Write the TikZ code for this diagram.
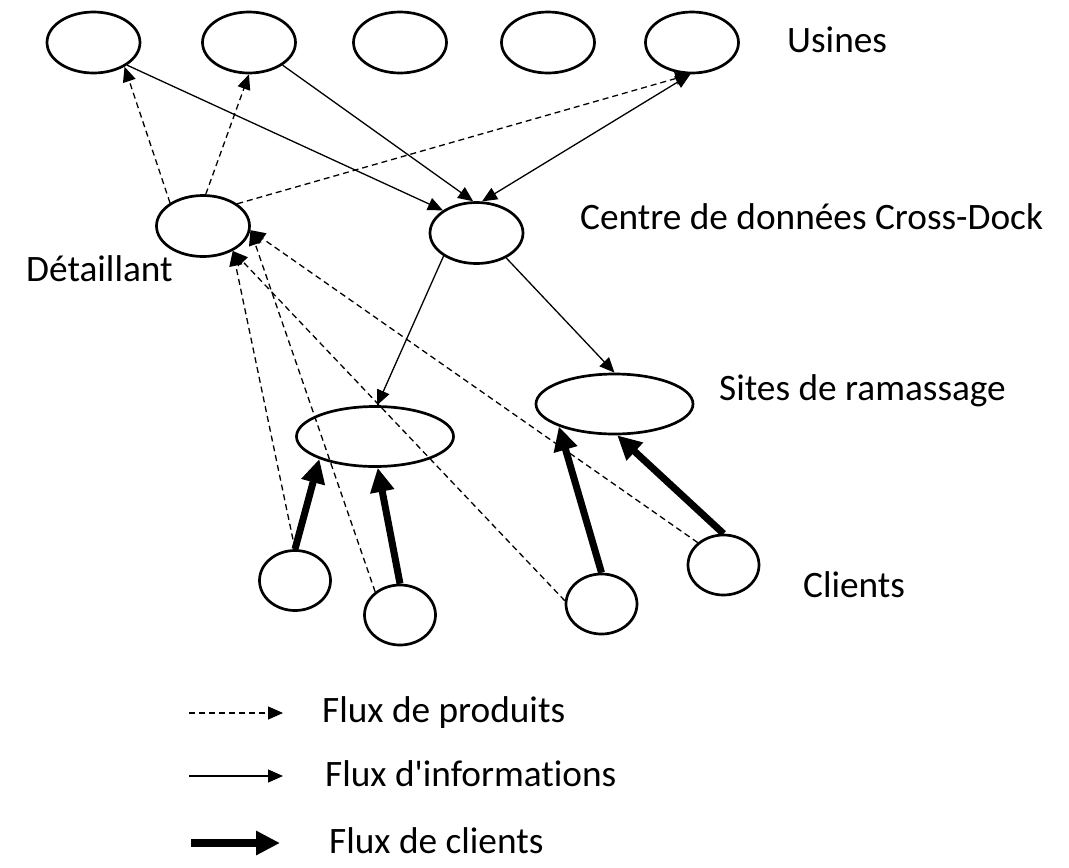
\documentclass[tikz,border=0pt]{standalone}
\usepackage{fontspec}
\setmainfont{Carlito}[Ligatures={NoCommon}]
\usetikzlibrary{shapes.geometric,arrows.meta}

\begin{document}
\begin{tikzpicture}[x=1pt, y=-1pt]
	\tikzset{noeud/.style={ellipse, draw=black, line width=2.7pt, inner sep=0pt, minimum width=93pt, minimum height=61pt},
		site/.style={noeud, minimum width=157pt, minimum height=60pt},
		client/.style={noeud, minimum width=71pt, minimum height=60pt},
		fleche/.style={-{Triangle[length=15pt, width=13pt]}, line width=1.3pt},
		produit/.style={fleche, dash pattern=on 6pt off 4pt},
		fort/.style={-{Triangle[length=24pt, width=23pt]}, line width=7pt},
		texte/.style={anchor=base west, inner sep=0pt, font=\fontsize{37.3}{44}\selectfont}};

	\useasboundingbox (0,0) rectangle (1069,868);

	\node[noeud] (u1) at ( 93.5,  42.5) {};
	\node[noeud] (u2) at (249,    42.5) {};
	\node[noeud] (u3) at (400,    42.5) {};
	\node[noeud] (u4) at (548,    42.5) {};
	\node[noeud] (u5) at (692,    42.5) {};

	\node[noeud] (det) at (203,  226) {};
	\node[noeud] (cd)  at (476.5, 233) {};
	\node[site]  (pl)  at (375,  436.5) {};
	\node[site]  (sr)  at (614.5, 404) {};

	\node[client] (c1) at (295,   580.5) {};
	\node[client] (c2) at (400,   615) {};
	\node[client] (c3) at (601.5, 604) {};
	\node[client] (c4) at (723.5, 565) {};

	\node[texte] (tu) at (787, 52) {Usines};
	\node[texte] (tcd) at (580, 229) {Centre de données Cross-Dock};
	\node[texte] (tdet) at (26, 281) {Détaillant};
	\node[texte] (tsr) at (719, 400) {Sites de ramassage};
	\node[texte] (tc) at (803, 597) {Clients};

	% flux d'informations
	\draw[fleche] (u1.-34) to (cd.146);
	\draw[fleche] (u2.-34) to (cd.96);
	\draw[fleche, {Triangle[length=15pt, width=13pt]}-{Triangle[length=15pt, width=13pt]}] (cd.80) to (u5.-93);
	\draw[fleche] (cd.-145) to (pl.86);
	\draw[fleche] (cd.-40) to (sr.north);

	% flux de produits
	\draw[produit] (det.145) to (u1.-38);
	\draw[produit] (det.85) to (u2.south);
	\draw[produit] (det.33) to (u5.-93);
	\draw[produit] (c1.north) to (det.-40);
	\draw[produit] (c2.137) to (det.-5);
	\draw[produit] (c3.175) to (det.-40);
	\draw[produit] (c4.139) to (det.-5);

	% flux de clients
	\draw[fort] (c1.north) to (pl.202);
	\draw[fort] (c2.north) to (pl.-85);
	\draw[fort] (c3.north) to (sr.202);
	\draw[fort] (c4.north) to (sr.-85);

	% legende
	\coordinate (lp1) at (189, 713);
	\coordinate (lp2) at (283, 713);
	\coordinate (li1) at (189, 776);
	\coordinate (li2) at (283, 776);
	\coordinate (lc1) at (191, 843);
	\coordinate (lc2) at (280, 843);
	\draw[produit] (lp1) to (lp2);
	\draw[fleche] (li1) to (li2);
	\draw[fort, line width=8pt] (lc1) to (lc2);
	\node[texte] (tlp) at (322, 722) {Flux de produits};
	\node[texte] (tli) at (325, 786) {Flux d\textquotesingle informations};
	\node[texte] (tlc) at (329, 853) {Flux de clients};
\end{tikzpicture}
\end{document}
